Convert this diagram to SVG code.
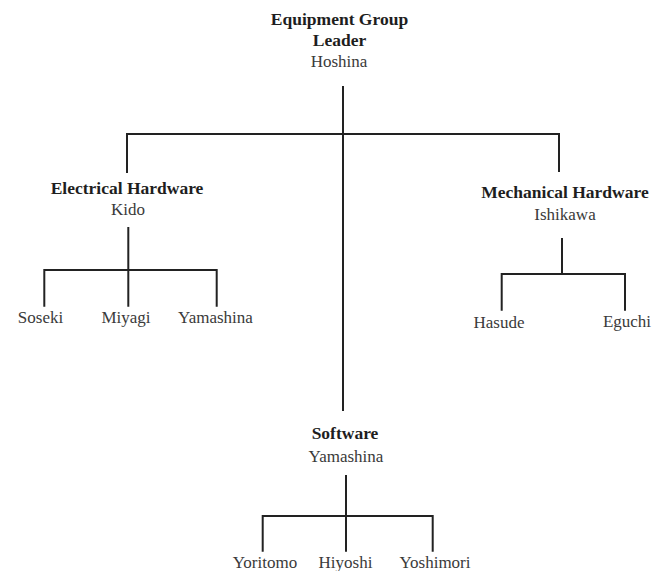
<svg xmlns="http://www.w3.org/2000/svg" width="666" height="571" viewBox="0 0 666 571">
<style>
.bg{fill:#ffffff}
.t{font-family:"Liberation Serif","Times New Roman",serif;text-anchor:middle}
.b{font-weight:bold;font-size:17.5px;fill:#1e1e1e}
.r{font-size:17px;fill:#3a3a3a}
.c{fill:none;stroke:#222222;stroke-width:2;stroke-linecap:butt}
</style>
<rect class="bg" x="0" y="0" width="666" height="571"/>
<g id="connectors">
<path class="c" d="M343,86 V411"/>
<path class="c" d="M127,173 V134 H559 V172"/>
<path class="c" d="M128.3,227 V306.7 M44.3,306.7 V270 H216.7 V306.7"/>
<path class="c" d="M562,238 V274 M501.7,310.7 V274 H625 V310.7"/>
<path class="c" d="M346,475 V551.7 M262.7,551.7 V516 H432.7 V551.7"/>
</g>
<g id="leader">
<text class="t b" x="339.5" y="25.3">Equipment Group</text>
<text class="t b" x="339.5" y="45.7">Leader</text>
<text class="t r" x="339" y="66.7">Hoshina</text>
</g>
<g id="electrical">
<text class="t b" x="127" y="194">Electrical Hardware</text>
<text class="t r" x="128" y="215">Kido</text>
</g>
<g id="soseki"><text class="t r" x="40.5" y="322.7">Soseki</text></g>
<g id="miyagi"><text class="t r" x="126" y="322.7">Miyagi</text></g>
<g id="yamashina-e"><text class="t r" x="215.5" y="322.7">Yamashina</text></g>
<g id="mechanical">
<text class="t b" x="565" y="198">Mechanical Hardware</text>
<text class="t r" x="565" y="220">Ishikawa</text>
</g>
<g id="hasude"><text class="t r" x="499" y="328">Hasude</text></g>
<g id="eguchi"><text class="t r" x="627" y="327">Eguchi</text></g>
<g id="software">
<text class="t b" x="345" y="439">Software</text>
<text class="t r" x="346" y="461.7">Yamashina</text>
</g>
<g id="yoritomo"><text class="t r" x="265" y="567.5">Yoritomo</text></g>
<g id="hiyoshi"><text class="t r" x="345.5" y="567.5">Hiyoshi</text></g>
<g id="yoshimori"><text class="t r" x="435" y="567.5">Yoshimori</text></g>
</svg>
